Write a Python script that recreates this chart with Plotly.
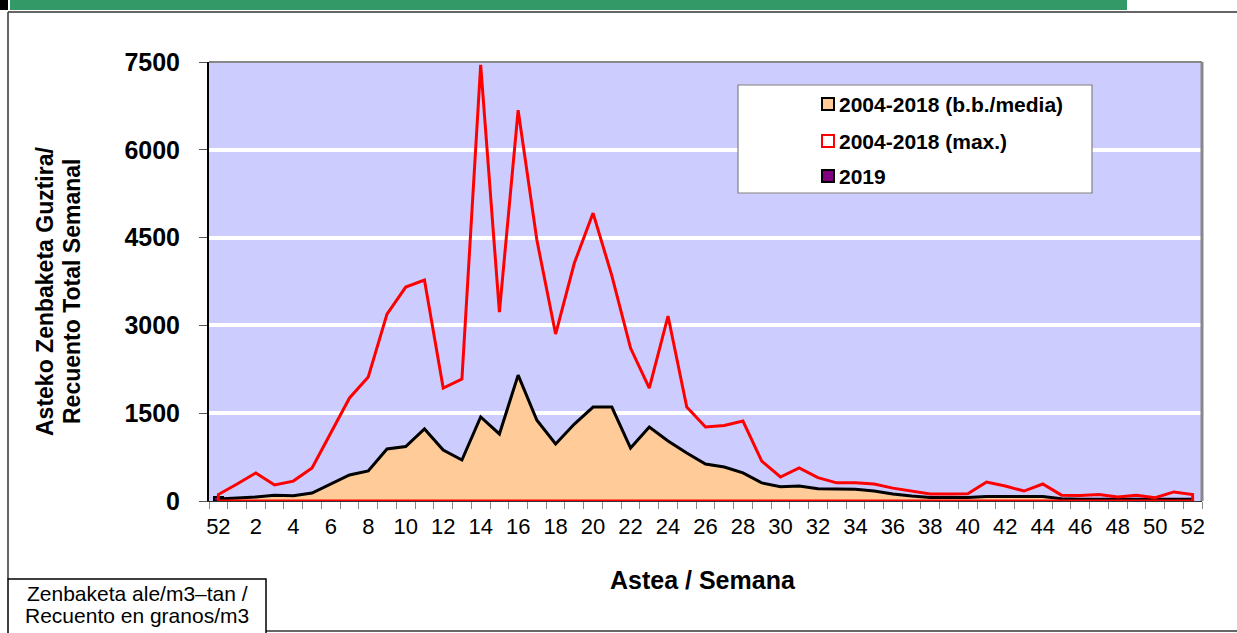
import plotly.graph_objects as go

# ---------------- data ----------------
weeks = [52] + list(range(1, 53))
media = [35, 50, 70, 100, 90, 135, 290, 445, 515, 890, 930, 1230, 870, 700, 1435, 1145,
         2150, 1380, 975, 1315, 1605, 1605, 905, 1264, 1025, 820, 632, 580, 480, 310,
         245, 255, 210, 205, 200, 170, 120, 85, 60, 60, 60, 75, 70, 75, 75, 40,
         30, 30, 25, 25, 20, 25, 30]
maximo = [110, 290, 480, 275, 340, 565, 1150, 1760, 2118, 3194, 3655, 3775, 1930, 2084,
          7450, 3228, 6678, 4458, 2852, 4065, 4919, 3850, 2613, 1930, 3160, 1605, 1264,
          1290, 1366, 683, 410, 564, 400, 310, 310, 290, 220, 170, 120, 120, 125, 325,
          255, 170, 290, 100, 95, 110, 70, 100, 55, 155, 110]
y2019 = [70, 35, 35, 90] + [None] * 49

series_names = ["2004-2018 (b.b./media)", "2004-2018 (max.)", "2019"]
y_ticks = [0, 1500, 3000, 4500, 6000, 7500]

FONT = "Liberation Sans, Arial, sans-serif"
W, H = 1237, 633
L, R, T, B = 209, 35, 62, 132
PW, PH = W - L - R, H - T - B


def px(x):
    return (x - L) / PW


def py(y):
    return (H - B - y) / PH


xi = list(range(len(weeks)))

fig = go.Figure()
fig.add_trace(go.Scatter(x=xi, y=media, mode="lines", fill="tozeroy",
                         fillcolor="#FFCC99", line=dict(color="black", width=3),
                         name=series_names[0], showlegend=False))
# max series drawn as an unfilled area outline (closed to the baseline)
fig.add_trace(go.Scatter(x=[xi[0]] + xi + [xi[-1], xi[0]],
                         y=[0] + maximo + [0, 0], mode="lines",
                         line=dict(color="#FF0000", width=3),
                         name=series_names[1], showlegend=False))
fig.add_trace(go.Bar(x=xi, y=y2019, width=0.5, marker=dict(color="#800080",
                     line=dict(color="black", width=2)),
                     name=series_names[2], showlegend=False))

fig.update_layout(
    width=W, height=H, margin=dict(l=L, r=R, t=T, b=B),
    paper_bgcolor="white", plot_bgcolor="#CCCCFF",
    font=dict(family=FONT, color="black"),
    bargap=0,
)
fig.update_xaxes(
    range=[-0.5, len(weeks) - 0.5],
    tickmode="array", tickvals=xi[::2], ticktext=[str(w) for w in weeks[::2]],
    ticks="", tickfont=dict(size=22, family=FONT, color="black"),
    ticklabelstandoff=6,
    minor=dict(tick0=0.5, dtick=1, ticks="outside", ticklen=7,
               tickcolor="#888888", tickwidth=1, showgrid=False),
    showgrid=False, zeroline=False,
    showline=True, linecolor="#333333", linewidth=1,
)
fig.update_yaxes(
    range=[0, 7500], tickmode="array", tickvals=y_ticks,
    ticktext=[str(v) for v in y_ticks],
    tickfont=dict(size=25, family=FONT, color="black", weight="bold"),
    ticks="outside", ticklen=8, tickcolor="#555555", tickwidth=1,
    ticklabelstandoff=14,
    showgrid=True, gridcolor="white", gridwidth=4, zeroline=False,
    showline=True, linecolor="black", linewidth=2,
)

shapes = []
# top and right borders of plot area
shapes.append(dict(type="line", xref="paper", yref="paper", x0=0, x1=1, y0=1, y1=1,
                   line=dict(color="#888888", width=2)))
shapes.append(dict(type="line", xref="paper", yref="paper", x0=1, x1=1, y0=0, y1=1,
                   line=dict(color="#888888", width=3)))
# banner at top
shapes.append(dict(type="rect", xref="paper", yref="paper", x0=px(10), x1=px(1127),
                   y0=py(10), y1=py(0), fillcolor="#339966", line=dict(width=0), layer="above"))
shapes.append(dict(type="rect", xref="paper", yref="paper", x0=px(0), x1=px(8),
                   y0=py(10), y1=py(0), fillcolor="black", line=dict(width=0)))
# outer frame lines
shapes.append(dict(type="line", xref="paper", yref="paper", x0=px(8), x1=px(1237),
                   y0=py(12), y1=py(12), line=dict(color="#333333", width=1.5)))
shapes.append(dict(type="line", xref="paper", yref="paper", x0=px(8), x1=px(8),
                   y0=py(12), y1=py(579), line=dict(color="#333333", width=1.5)))
shapes.append(dict(type="line", xref="paper", yref="paper", x0=px(266), x1=px(1237),
                   y0=py(631), y1=py(631), line=dict(color="#333333", width=1.5)))
# unit box bottom-left
shapes.append(dict(type="rect", xref="paper", yref="paper", x0=px(8), x1=px(266),
                   y0=py(640), y1=py(579), fillcolor="white",
                   line=dict(color="black", width=1.5)))
# legend box
shapes.append(dict(type="rect", xref="paper", yref="paper", x0=px(738), x1=px(1092),
                   y0=py(193), y1=py(85), fillcolor="white",
                   line=dict(color="#808080", width=1.2), layer="above"))
leg_y = [104, 141, 176]
leg_fill = ["#FFCC99", "white", "#800080"]
leg_line = ["black", "#FF0000", "black"]
for yy, fc, lc in zip(leg_y, leg_fill, leg_line):
    shapes.append(dict(type="rect", xref="paper", yref="paper", x0=px(822), x1=px(834),
                       y0=py(yy + 6), y1=py(yy - 6), fillcolor=fc,
                       line=dict(color=lc, width=2), layer="above"))

annotations = []
for yy, name in zip(leg_y, series_names):
    annotations.append(dict(xref="paper", yref="paper", x=px(837), y=py(yy),
                            xanchor="left", yanchor="middle", text=name, showarrow=False,
                            font=dict(size=21, family=FONT, color="black", weight="bold")))
# y axis title (two lines)
annotations.append(dict(xref="paper", yref="paper", x=px(45), y=py(292), textangle=-90,
                        xanchor="center", yanchor="middle", showarrow=False,
                        text="Asteko Zenbaketa Guztira/",
                        font=dict(size=23, family=FONT, color="black", weight="bold")))
annotations.append(dict(xref="paper", yref="paper", x=px(72), y=py(292), textangle=-90,
                        xanchor="center", yanchor="middle", showarrow=False,
                        text="Recuento Total Semanal",
                        font=dict(size=23, family=FONT, color="black", weight="bold")))
# x axis title
annotations.append(dict(xref="paper", yref="paper", x=px(703), y=py(580),
                        xanchor="center", yanchor="middle", showarrow=False,
                        text="Astea / Semana",
                        font=dict(size=25, family=FONT, color="black", weight="bold")))
# unit text
annotations.append(dict(xref="paper", yref="paper", x=px(137), y=py(593),
                        xanchor="center", yanchor="middle", showarrow=False,
                        text="Zenbaketa ale/m3\u2013tan /",
                        font=dict(size=21, family=FONT, color="black")))
annotations.append(dict(xref="paper", yref="paper", x=px(137), y=py(615),
                        xanchor="center", yanchor="middle", showarrow=False,
                        text="Recuento en granos/m3",
                        font=dict(size=21, family=FONT, color="black")))

fig.update_layout(shapes=shapes, annotations=annotations)
fig.write_html("out.html", config={"displayModeBar": False},
               post_script="document.body.style.margin='0px';"
                           "document.body.style.overflow='hidden';")
